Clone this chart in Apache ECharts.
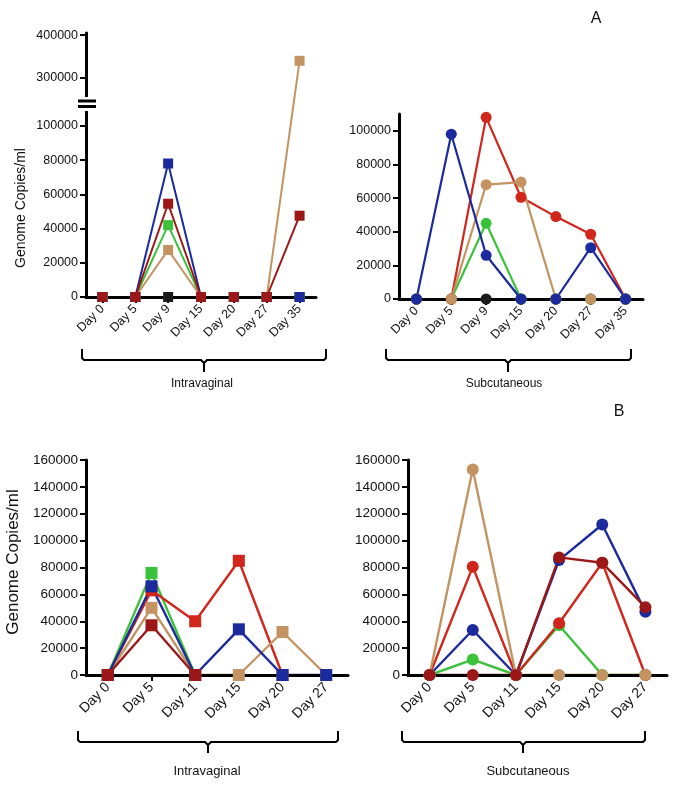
<!DOCTYPE html>
<html><head><meta charset="utf-8">
<script src="https://cdn.jsdelivr.net/npm/echarts@6/dist/echarts.min.js"></script>
<style>html,body{margin:0;padding:0;background:#fff}#c{width:685px;height:799px}</style>
</head><body><div id="c"></div>
<script>
// ---------- categories ----------
const daysA = ['Day 0','Day 5','Day 9','Day 15','Day 20','Day 27','Day 35'];
const daysB = ['Day 0','Day 5','Day 11','Day 15','Day 20','Day 27'];

// ---------- Panel A – Intravaginal (squares) ----------
const aIvBlack   = [0,0,0,0,0,0,0];
const aIvGreen   = [0,0,42000,0,0,0,0];
const aIvTan     = [0,0,27500,0,0,0,340000];
const aIvBlue    = [0,0,78000,0,0,0,0];
const aIvDarkRed = [0,0,54500,0,0,0,47500];

// ---------- Panel A – Subcutaneous (circles) ----------
const aScBlack = [0,0,0,0,0,0,0];
const aScGreen = [0,0,45000,0,0,0,0];
const aScRed   = [0,0,108000,60500,49000,38500,0];
const aScTan   = [0,0,68000,69500,0,0,0];
const aScBlue  = [0,98000,26000,0,0,30500,0];

// ---------- Panel B – Intravaginal (squares) ----------
const bIvGreen   = [0,76000,0,null,null,null];
const bIvRed     = [0,63000,40000,85000,0,null];
const bIvTan     = [0,50000,0,0,32000,0];
const bIvBlue    = [0,66000,0,34000,0,0];
const bIvDarkRed = [0,37000,0,null,null,null];

// ---------- Panel B – Subcutaneous (circles) ----------
const bScGreen   = [0,11500,0,37000,0,0];
const bScRed     = [0,80500,0,38500,83500,0];
const bScBlue    = [0,33500,0,85500,112000,47000];
const bScTan     = [0,153000,0,0,0,0];
const bScDarkRed = [0,0,0,87500,83500,50500];

// ---------- tick labels ----------
const yTicksAIv = [0,20000,40000,60000,80000,100000,300000,400000];
const yTicksASc = [0,20000,40000,60000,80000,100000];

// colours
const C = {blue:'#1b2a9c', darkred:'#9c1818', red:'#d0261c', green:'#3cc23a', tan:'#c39462', black:'#1a1a1a'};
const FONT = 'Liberation Sans, Arial, sans-serif';

// Broken y-axis of panel A intravaginal: lower part 0..110000 linear,
// upper part (from 255000) compressed 4x, placed above the break.
const BRK = {lowTop:110000, upRef:300000, upAt:128000, upScale:0.25};
function brokenY(v){ return v <= BRK.lowTop ? v : BRK.upAt + (v - BRK.upRef) * BRK.upScale; }
function unbrokenY(d){ return d <= BRK.lowTop ? d : Math.round(BRK.upRef + (d - BRK.upAt) / BRK.upScale); }

const series = [];
function addSeries(gi, values, color, symbol, size, lw, map){
  const d = values.map(v => v == null ? '-' : (map ? map(v) : v));
  series.push({type:'line', xAxisIndex:gi, yAxisIndex:gi, data:d, symbol:'none', z:1, silent:true,
    lineStyle:{color:color, width:lw}, connectNulls:false});
  const pts = [];
  d.forEach((v,i)=>{ if (v !== '-') pts.push([i, v]); });
  series.push({type:'scatter', xAxisIndex:gi, yAxisIndex:gi, data:pts, symbol:symbol, symbolSize:size, z:3, silent:true,
    itemStyle:{color:color, opacity:1}});
}

// A intravaginal
[[aIvBlack,C.black],[aIvGreen,C.green],[aIvTan,C.tan],[aIvBlue,C.blue],[aIvDarkRed,C.darkred]]
  .forEach(([v,c])=>addSeries(0, v, c, 'rect', 10, 2, brokenY));
// A subcutaneous
[[aScBlack,C.black],[aScGreen,C.green],[aScRed,C.red],[aScTan,C.tan],[aScBlue,C.blue]]
  .forEach(([v,c])=>addSeries(1, v, c, 'circle', 11, 2.2));
// B intravaginal
[[bIvGreen,C.green],[bIvRed,C.red],[bIvTan,C.tan],[bIvBlue,C.blue],[bIvDarkRed,C.darkred]]
  .forEach(([v,c])=>addSeries(2, v, c, 'rect', 12, 2.4));
// B subcutaneous
[[bScGreen,C.green],[bScRed,C.red],[bScBlue,C.blue],[bScTan,C.tan],[bScDarkRed,C.darkred]]
  .forEach(([v,c])=>addSeries(3, v, c, 'circle', 12, 2.4));

function xAx(gi, cats, fs){
  return {type:'category', gridIndex:gi, data:cats, boundaryGap:true, z:2,
    axisLine:{lineStyle:{color:'#000', width:3}},
    axisTick:{show:true, alignWithLabel:true, length:6, lineStyle:{color:'#000', width:2}},
    axisLabel:{rotate:45, margin:10, interval:0, fontSize:fs, color:'#111', fontFamily:FONT},
    splitLine:{show:false}};
}
function yAx(gi, max, fs, opts){
  const o = {type:'value', gridIndex:gi, min:0, max:max, z:2,
    axisLine:{show:true, lineStyle:{color:'#000', width:3}},
    axisTick:{show:true, length:6, lineStyle:{color:'#000', width:2}},
    axisLabel:{margin:8, fontSize:fs, color:'#111', fontFamily:FONT, formatter: v => String(v)},
    splitLine:{show:false}};
  if (opts && opts.custom){
    o.axisTick.customValues = opts.custom;
    o.axisLabel.customValues = opts.custom;
    if (opts.fmt) o.axisLabel.formatter = opts.fmt;
  } else {
    o.interval = 20000;
  }
  return o;
}

function bracket(L, R, Cx, top, h, nub){
  const st = {stroke:'#000', lineWidth:2, fill:null};
  return [
    {type:'polyline', z:100, shape:{points:[[L,top],[L,h-2],[L+2,h],[Cx-3,h],[Cx,h+3],[Cx,nub]]}, style:st},
    {type:'polyline', z:100, shape:{points:[[Cx,h+3],[Cx+3,h],[R-2,h],[R,h-2],[R,top]]}, style:st}
  ];
}
function txt(x, y, s, fs, rot){
  return {type:'text', x:x, y:y, rotation:rot||0, z:100,
    style:{text:s, fontSize:fs, fontFamily:FONT, fill:'#111', textAlign:'center', textVerticalAlign:'middle'}};
}

const graphic = [
  txt(596, 19, 'A', 16),
  txt(619, 412, 'B', 16),
  txt(21, 208, 'Genome Copies/ml', 14, Math.PI/2),
  txt(13, 562, 'Genome Copies/ml', 17, Math.PI/2),
  // axis break marks
  {type:'rect', z:100, shape:{x:80, y:97, width:12, height:14}, style:{fill:'#fff'}},
  {type:'rect', z:101, shape:{x:78, y:99.5, width:18, height:3}, style:{fill:'#000'}},
  {type:'rect', z:101, shape:{x:78, y:105, width:18, height:3}, style:{fill:'#000'}},
  ...bracket(82, 326, 204, 349, 360, 372),
  txt(202, 384, 'Intravaginal', 12),
  ...bracket(386, 631, 508, 349, 360, 372),
  txt(504, 384, 'Subcutaneous', 12),
  ...bracket(78, 338, 208, 731, 742, 753),
  txt(207, 771, 'Intravaginal', 13),
  ...bracket(402, 645, 523, 731, 742, 753),
  txt(528, 771, 'Subcutaneous', 13)
];

const option = {
  animation:false,
  backgroundColor:'#fff',
  grid:[
    {left:86, top:33, width:230, height:264},
    {left:399, top:114, width:244, height:185},
    {left:86, top:460, width:262, height:215},
    {left:408, top:460, width:259, height:215}
  ],
  xAxis:[xAx(0, daysA, 12.5), xAx(1, daysA, 12.5), xAx(2, daysB, 14), xAx(3, daysB, 14)],
  yAxis:[
    yAx(0, brokenY(405000), 12.5, {custom: yTicksAIv.map(brokenY), fmt: v => String(unbrokenY(v))}),
    yAx(1, 110000, 12.5, {custom: yTicksASc}),
    yAx(2, 160000, 13.5),
    yAx(3, 160000, 13.5)
  ],
  series: series,
  graphic: graphic
};

const chart = echarts.init(document.getElementById('c'), null, {renderer:'canvas'});
chart.setOption(option);
</script>
</body></html>
